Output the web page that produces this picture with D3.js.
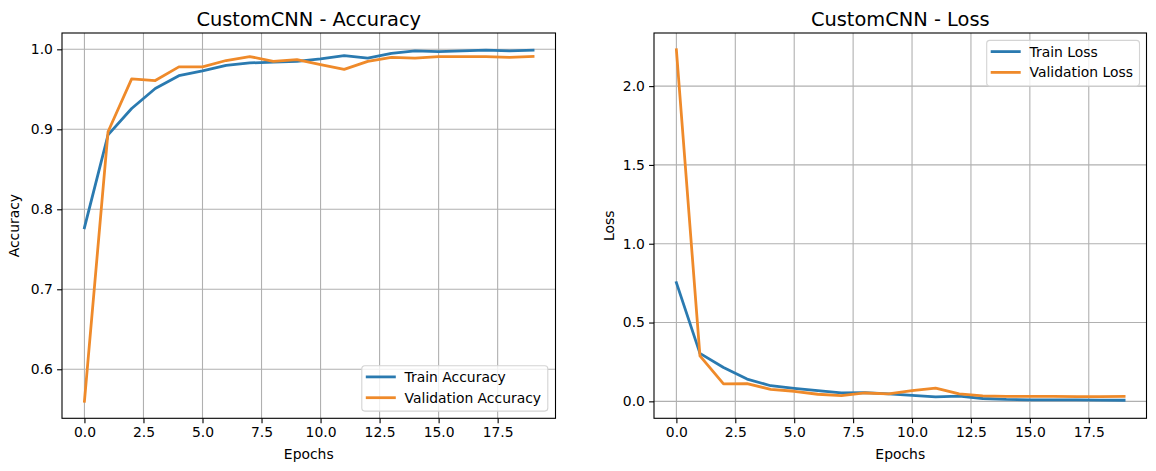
<!DOCTYPE html>
<html>
<head>
<meta charset="utf-8">
<script src="https://cdn.jsdelivr.net/npm/d3@7"></script>
<style>
  html, body { margin: 0; padding: 0; background: #fff; }
  svg { display: block; font-family: "DejaVu Sans", sans-serif; }
</style>
</head>
<body>
<svg id="chart" width="1156" height="471"></svg>
<script>
const epochs = d3.range(0, 20);
const trainAcc = [0.777, 0.893, 0.926, 0.951, 0.967, 0.973, 0.980, 0.983, 0.984, 0.985,
                  0.988, 0.992, 0.989, 0.995, 0.998, 0.997, 0.998, 0.999, 0.998, 0.999];
const valAcc   = [0.560, 0.897, 0.963, 0.961, 0.978, 0.978, 0.986, 0.991, 0.985, 0.987,
                  0.981, 0.975, 0.985, 0.990, 0.989, 0.991, 0.991, 0.991, 0.990, 0.991];
const trainLoss = [0.753, 0.304, 0.215, 0.141, 0.099, 0.082, 0.068, 0.053, 0.055, 0.047,
                   0.038, 0.029, 0.033, 0.018, 0.012, 0.010, 0.010, 0.009, 0.008, 0.007];
const valLoss   = [2.230, 0.289, 0.111, 0.113, 0.076, 0.064, 0.045, 0.036, 0.053, 0.047,
                   0.068, 0.084, 0.047, 0.034, 0.032, 0.031, 0.031, 0.030, 0.030, 0.031];
const xTicks = [0, 2.5, 5, 7.5, 10, 12.5, 15, 17.5];
const accTicks = [0.6, 0.7, 0.8, 0.9, 1.0];
const lossTicks = [0.0, 0.5, 1.0, 1.5, 2.0];
const colors = ["#2a7ab0", "#ef8a2a"];

const svg = d3.select("#chart");
const FS = 13.9;

function panel(opts) {
  const {left, right, top, bottom, ydomain, yTicks, title, ylabel, ylabelX, series, names, legendPos} = opts;
  const g = svg.append("g");
  const x = d3.scaleLinear().domain([-0.95, 19.95]).range([left, right]);
  const y = d3.scaleLinear().domain(ydomain).range([bottom, top]);

  // grid
  g.append("g").selectAll("line").data(xTicks).join("line")
    .attr("x1", d => x(d)).attr("x2", d => x(d)).attr("y1", top).attr("y2", bottom)
    .attr("stroke", "#b0b0b0").attr("stroke-width", 1.1);
  g.append("g").selectAll("line").data(yTicks).join("line")
    .attr("x1", left).attr("x2", right).attr("y1", d => y(d)).attr("y2", d => y(d))
    .attr("stroke", "#b0b0b0").attr("stroke-width", 1.1);

  // axes
  const xa = g.append("g").attr("transform", `translate(0,${bottom})`)
    .call(d3.axisBottom(x).tickValues(xTicks).tickFormat(d3.format(".1f")).tickSize(4.9).tickPadding(4.2));
  const ya = g.append("g").attr("transform", `translate(${left},0)`)
    .call(d3.axisLeft(y).tickValues(yTicks).tickFormat(d3.format(".1f")).tickSize(4.9).tickPadding(4.2));
  [xa, ya].forEach(a => {
    a.select(".domain").remove();
    a.selectAll("text").attr("font-size", FS).attr("fill", "#000").attr("font-family", "DejaVu Sans");
    a.selectAll("line").attr("stroke", "#000").attr("stroke-width", 1.1);
  });

  // lines
  const line = d3.line().x((d, i) => x(epochs[i])).y(d => y(d));
  series.forEach((s, k) => {
    g.append("path").datum(s).attr("d", line).attr("fill", "none")
      .attr("stroke", colors[k]).attr("stroke-width", 2.78).attr("stroke-linejoin", "round").attr("stroke-linecap", "square");
  });

  // frame
  g.append("rect").attr("x", left).attr("y", top).attr("width", right - left).attr("height", bottom - top)
    .attr("fill", "none").attr("stroke", "#000").attr("stroke-width", 1.1);

  // title and labels
  const cx = (left + right) / 2;
  g.append("text").attr("x", cx).attr("y", 26).attr("text-anchor", "middle")
    .attr("font-size", 19.4).text(title);
  g.append("text").attr("x", cx).attr("y", 458.8).attr("text-anchor", "middle")
    .attr("font-size", FS).text("Epochs");
  g.append("text").attr("transform", `translate(${ylabelX},${(top + bottom) / 2}) rotate(-90)`)
    .attr("text-anchor", "middle").attr("font-size", FS).text(ylabel);

  // legend
  const [lx, ly, lw, lh] = legendPos;
  const lg = g.append("g").attr("transform", `translate(${lx},${ly})`);
  lg.append("rect").attr("width", lw).attr("height", lh).attr("rx", 3)
    .attr("fill", "#fff").attr("fill-opacity", 0.8).attr("stroke", "#d4d4d4").attr("stroke-width", 1.1);
  names.forEach((n, k) => {
    const yy = 11.2 + k * 20.8;
    lg.append("line").attr("x1", 4).attr("x2", 34).attr("y1", yy).attr("y2", yy)
      .attr("stroke", colors[k]).attr("stroke-width", 2.78);
    lg.append("text").attr("x", 42.8).attr("y", yy).attr("dy", "0.36em").attr("font-size", FS).text(n);
  });
}

panel({
  left: 62, right: 555.5, top: 33, bottom: 418.3,
  ydomain: [0.5387, 1.0204], yTicks: accTicks,
  title: "CustomCNN - Accuracy", ylabel: "Accuracy", ylabelX: 18.6,
  series: [trainAcc, valAcc], names: ["Train Accuracy", "Validation Accuracy"],
  legendPos: [361.8, 365.7, 186, 45.4]
});
panel({
  left: 654, right: 1146.5, top: 33, bottom: 418.3,
  ydomain: [-0.1076, 2.337], yTicks: lossTicks,
  title: "CustomCNN - Loss", ylabel: "Loss", ylabelX: 614,
  series: [trainLoss, valLoss], names: ["Train Loss", "Validation Loss"],
  legendPos: [986.7, 40.4, 152.8, 45.6]
});
</script>
</body>
</html>
